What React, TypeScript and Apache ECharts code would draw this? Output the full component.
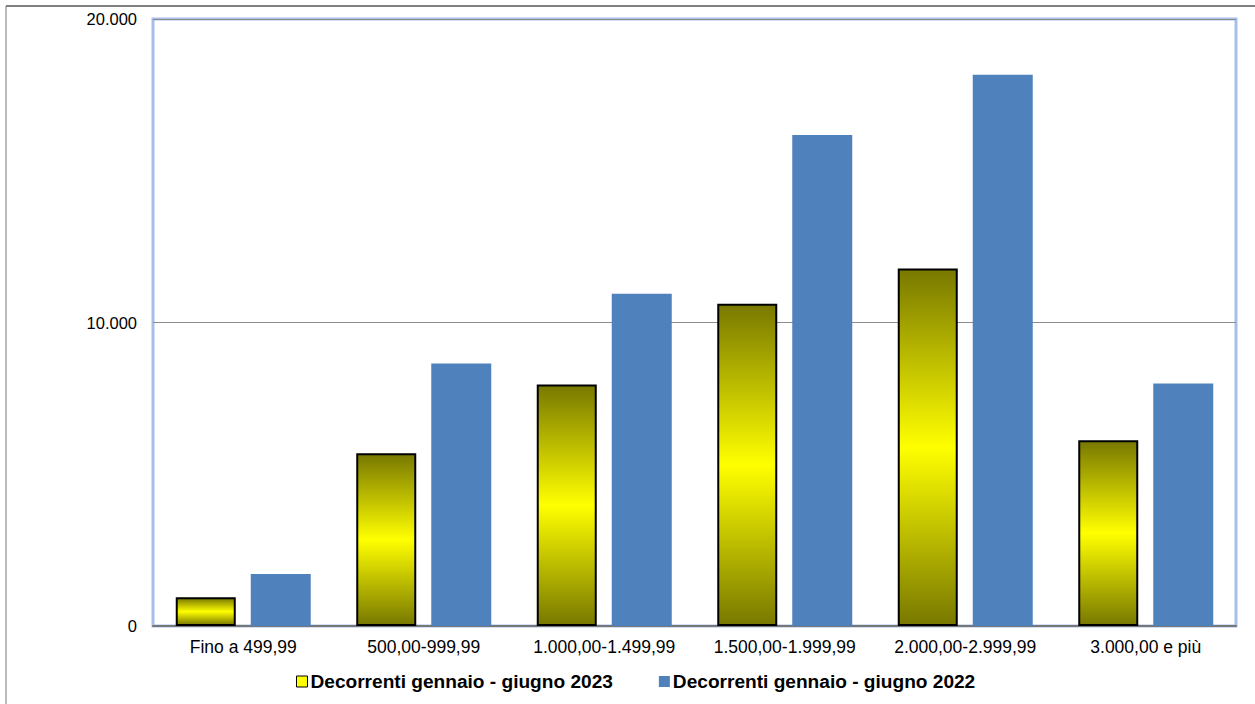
import React, { useEffect, useRef } from "react";
import * as echarts from "echarts";

const categories = ["Fino a 499,99", "500,00-999,99", "1.000,00-1.499,99", "1.500,00-1.999,99", "2.000,00-2.999,99", "3.000,00 e più"];
const series2023 = [950, 5690, 7960, 10620, 11780, 6120];
const series2022 = [1710, 8650, 10950, 16180, 18160, 7990];
const name2023 = "Decorrenti gennaio - giugno 2023";
const name2022 = "Decorrenti gennaio - giugno 2022";

export default function App() {
  const ref = useRef<HTMLDivElement>(null);
  useEffect(() => {
    document.body.style.margin = "0";
    const chart = echarts.init(ref.current!, null, { renderer: "svg" });
    const yellow = new echarts.graphic.LinearGradient(0, 0, 0, 1, [
      { offset: 0, color: "#787800" },
      { offset: 0.5, color: "#ffff00" },
      { offset: 1, color: "#787800" },
    ]);
    chart.setOption({
      animation: false,
      textStyle: { fontFamily: "Liberation Sans, Arial, sans-serif" },
      grid: {
        left: 153, right: 19, top: 19, bottom: 78,
        show: true, borderColor: "#a7bfe8", borderWidth: 3, backgroundColor: "#ffffff",
      },
      legend: {
        bottom: 8, left: 291, itemWidth: 11, itemHeight: 11, itemGap: 46,
        textStyle: { fontSize: 19.1, fontWeight: "bold", color: "#000", fontFamily: "Liberation Sans, Arial, sans-serif", padding: [0, 0, 0, -2] },
        data: [
          { name: name2023, icon: "rect", itemStyle: { color: "#ffff00", borderColor: "#000", borderWidth: 1 } },
          { name: name2022, icon: "rect" },
        ],
      },
      xAxis: {
        type: "category", data: categories,
        axisLine: { lineStyle: { color: "#777", width: 2 } },
        axisTick: { show: false },
        axisLabel: { fontSize: 17.5, color: "#000", margin: 12, interval: 0 },
      },
      yAxis: {
        type: "value", min: 0, max: 20000, interval: 10000,
        axisLabel: {
          fontSize: 16.5, color: "#000", margin: 16,
          formatter: (v: number) => (v === 0 ? "0" : v.toLocaleString("de-DE")),
        },
        splitLine: { lineStyle: { color: "#8c8c8c", width: 1 } },
        axisLine: { show: false },
        axisTick: { show: false },
      },
      series: [
        {
          name: name2023, type: "bar", data: series2023, barWidth: 60, barGap: "25%",
          itemStyle: { color: yellow, borderColor: "#000", borderWidth: 2 },
        },
        {
          name: name2022, type: "bar", data: series2022, barWidth: 60,
          itemStyle: { color: "#4f81bd" },
        },
      ],
      graphic: [
        { type: "line", shape: { x1: 6, y1: 6, x2: 1255, y2: 6 }, style: { stroke: "#000", lineWidth: 1 } },
        { type: "line", shape: { x1: 6, y1: 6, x2: 6, y2: 704 }, style: { stroke: "#777", lineWidth: 1 } },
      ],
    });
    return () => chart.dispose();
  }, []);
  return <div ref={ref} style={{ width: 1255, height: 704 }} />;
}
